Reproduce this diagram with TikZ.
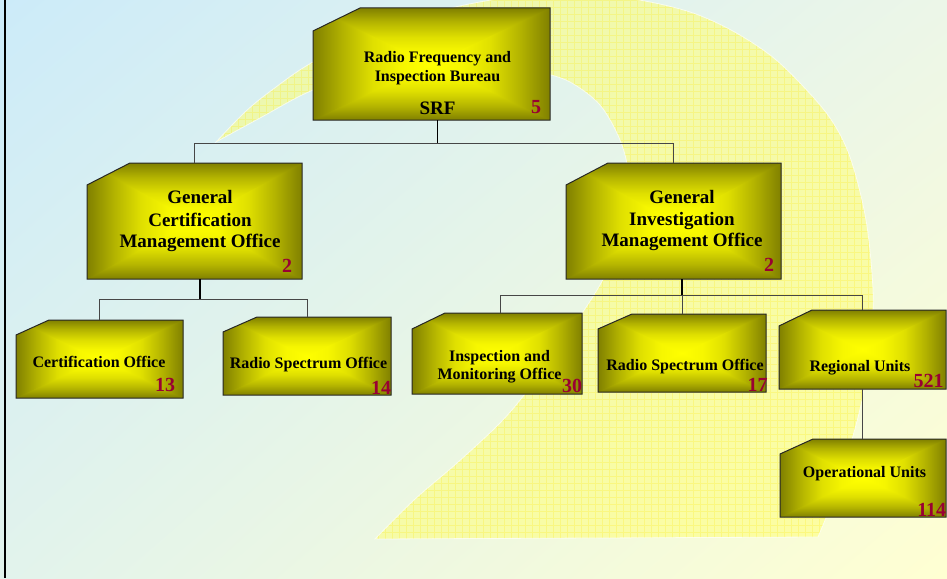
\documentclass[tikz,border=0pt]{standalone}
\usepackage{fontspec}
\setmainfont{Liberation Serif}
\usetikzlibrary{shadings}
\definecolor{bgUL}{RGB}{204,235,249}
\definecolor{bgUR}{RGB}{236,246,232}
\definecolor{bgLL}{RGB}{226,243,236}
\definecolor{bgLR}{RGB}{255,255,210}
\definecolor{olv}{RGB}{128,128,0}
\definecolor{ylw}{RGB}{255,255,0}
\colorlet{shA}{ylw!40!olv}
\colorlet{shB}{ylw!75!olv}
\colorlet{shC}{ylw!93!olv}
\definecolor{numred}{RGB}{153,0,51}
\definecolor{twofill}{RGB}{255,255,120}
\definecolor{busgray}{RGB}{70,70,70}
\pgfdeclareverticalshading{boxv}{100bp}{color(0bp)=(olv); color(25bp)=(olv); color(31bp)=(shA); color(38bp)=(shB); color(44bp)=(shC); color(50bp)=(ylw); color(56bp)=(shC); color(62bp)=(shB); color(69bp)=(shA); color(75bp)=(olv); color(100bp)=(olv)}
\pgfdeclarehorizontalshading{boxl}{100bp}{color(0bp)=(olv); color(25bp)=(olv); color(37.5bp)=(shA); color(50bp)=(shB); color(62.5bp)=(shC); color(75bp)=(ylw); color(100bp)=(ylw)}
\pgfdeclarehorizontalshading{boxr}{100bp}{color(0bp)=(ylw); color(25bp)=(ylw); color(37.5bp)=(shC); color(50bp)=(shB); color(62.5bp)=(shA); color(75bp)=(olv); color(100bp)=(olv)}
\tikzset{
  boxline/.style={draw=black!85, line width=1pt, line join=miter},
  stemline/.style={draw=black, line width=1.6pt},
  busline/.style={draw=busgray, line width=1pt},
  tsmall/.style={font=\bfseries\fontsize{16}{19}\selectfont, inner sep=0pt, anchor=base},
  tbig/.style={font=\bfseries\fontsize{19}{22}\selectfont, inner sep=0pt, anchor=base},
  numtext/.style={font=\bfseries\fontsize{20}{24}\selectfont, text=numred, inner sep=0pt, anchor=base},
  twogrid/.style={draw=yellow!90!orange, draw opacity=0.22, line width=0.5pt},
}
\newcommand{\DigitTwoPath}{%
  plot[smooth, tension=0.55] coordinates {(216,142) (245,112) (272,90) (313,62) (380,30) (451,8) (520,-4) (580,-6) (639,0) (690,12) (731,30) (770,55) (800,83) (830,118) (850,157) (866,220) (873,290) (871,335) (862,400) (846,460) (833,500) (818,537)}
  -- (375,539)
  -- plot[smooth, tension=0.55] coordinates {(375,539) (414,500) (457,463) (500,423) (528,390) (560,345) (594,295) (612,260) (625,215) (628,173) (620,140) (600,105) (570,82) (540,72) (500,62) (440,58) (380,68) (313,90) (260,118) (216,142)}
  -- cycle}
\newcommand{\orgbox}[7]{%
  \begin{scope}
    \clip ({#2+#6},#3) -- (#4,#3) -- (#4,#5) -- (#2,#5) -- (#2,{#3+#7}) -- cycle;
    \shade[shading=boxv] (#2,#3) rectangle (#4,#5);
    \shade[shading=boxl] (#2,#3) -- ({(#2+#4)/2},{(#3+#5)/2}) -- (#2,#5) -- cycle;
    \shade[shading=boxr] (#4,#3) -- ({(#2+#4)/2},{(#3+#5)/2}) -- (#4,#5) -- cycle;
  \end{scope}
  \draw[boxline] ({#2+#6},#3) -- (#4,#3) -- (#4,#5) -- (#2,#5) -- (#2,{#3+#7}) -- cycle;
  \node[minimum width={#4-#2}, minimum height={#5-#3}, inner sep=0pt, outer sep=0pt] (#1) at ({(#2+#4)/2},{(#3+#5)/2}) {};
}
\begin{document}
\begin{tikzpicture}[x=1pt,y=-1pt]
\useasboundingbox (0,0) rectangle (947,578);
% background
\shade[upper left=bgUL, upper right=bgUR, lower left=bgLL, lower right=bgLR] (0,0) rectangle (947,578);
% big "2"
\begin{scope}
  \clip (0,0) rectangle (947,578);
  \fill[twofill, fill opacity=0.55] \DigitTwoPath;
  \begin{scope}
    \clip \DigitTwoPath;
    \draw[twogrid] (180,560) grid[step=7pt] (900,-20);
  \end{scope}
  \draw[white, draw opacity=0.7, line width=0.8pt] \DigitTwoPath;
\end{scope}
% left border
\draw[black, line width=2pt] (4.5,0) -- (4.5,578);
% boxes
\orgbox{srf}{313}{8}{550}{120}{47}{23}
\orgbox{gcm}{87}{163}{302}{279}{43}{22}
\orgbox{gim}{566}{163}{781}{279}{42}{22}
\orgbox{co}{16}{320}{183}{398}{33}{15}
\orgbox{rsoa}{223}{317}{391}{395}{34}{15}
\orgbox{imo}{412}{313}{582}{394}{33}{16}
\orgbox{rsob}{598}{314}{766}{392}{34}{15}
\orgbox{ru}{779}{310}{946}{389}{33}{16}
\orgbox{ou}{780}{439}{946}{517}{33}{15}
% connectors
\draw[stemline] ([xshift=6pt]srf.south) -- ++(0,23);
\draw[busline] (gcm.north) -- ++(0,-20) -| (gim.north);
\draw[stemline] ([xshift=5.5pt]gcm.south) -- ++(0,20);
\draw[busline] (co.north) -- ++(0,-21) -| (rsoa.north);
\draw[stemline] ([xshift=8.5pt]gim.south) -- ++(0,16);
\draw[busline] ([xshift=3pt]imo.north) -- ++(0,-18) -| (ru.north);
\draw[busline] (rsob.north) -- ++(0,-19);
\draw[busline] (ru.south) -- (ru.south |- ou.north);
% texts
\node[tsmall] (srfa) at (437.5,62.7) {Radio Frequency and};
\node[tsmall] (srfb) at (437.5,81.7) {Inspection Bureau};
\node[tbig] (srfc) at (437.5,114) {SRF};
\node[numtext] (srfn) at (536,113.5) {5};
\node[tbig] (gcma) at (200,203.3) {General};
\node[tbig] (gcmb) at (200,226) {Certification};
\node[tbig] (gcmc) at (200,247.7) {Management Office};
\node[numtext] (gcmn) at (287,272.5) {2};
\node[tbig] (gima) at (682,203.3) {General};
\node[tbig] (gimb) at (682,225) {Investigation};
\node[tbig] (gimc) at (682,246.7) {Management Office};
\node[numtext] (gimn) at (769,271.7) {2};
\node[tsmall] (cot) at (99,367.3) {Certification Office};
\node[numtext] (con) at (165,391.7) {13};
\node[tsmall] (rsoat) at (308.5,368.3) {Radio Spectrum Office};
\node[numtext] (rsoan) at (381,394.3) {14};
\node[tsmall] (imoa) at (499.5,361) {Inspection and};
\node[tsmall] (imob) at (499.5,379.3) {Monitoring Office};
\node[numtext] (imon) at (572,392.3) {30};
\node[tsmall] (rsobt) at (685,370) {Radio Spectrum Office};
\node[numtext] (rsobn) at (757.6,391.7) {17};
\node[tsmall] (rut) at (860,371.7) {Regional Units};
\node[numtext] (run) at (928.6,387.7) {521};
\node[tsmall] (out) at (864.5,477.3) {Operational Units};
\node[numtext] (oun) at (931.7,516.7) {114};
\end{tikzpicture}
\end{document}
